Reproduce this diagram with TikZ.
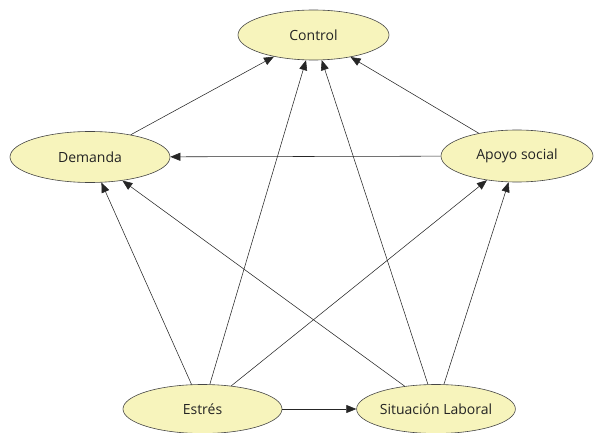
\documentclass[tikz,border=0pt]{standalone}
\usepackage{fontspec}
\setmainfont{Open Sans}
\usetikzlibrary{shapes.geometric,arrows.meta}
\definecolor{nodefill}{RGB}{247,244,188}
\definecolor{nodeline}{RGB}{70,70,70}
\definecolor{labeltext}{RGB}{35,35,35}
\tikzset{
  var/.style={ellipse, draw=nodeline, line width=0.6pt, fill=nodefill,
    inner sep=0pt, text=labeltext, font=\fontsize{14}{16}\selectfont},
  link/.style={draw=black!85, line width=0.55pt,
    -{Triangle[length=10pt,width=8pt]}}
}
\begin{document}
\begin{tikzpicture}[x=1pt,y=-1pt]
  \useasboundingbox (0,0) rectangle (594,433);
  % variables
  \node[var, minimum width=151pt, minimum height=50pt] (control) at (313.5,35) {Control};
  \node[var, minimum width=160pt, minimum height=51pt] (demanda) at (90,157) {Demanda};
  \node[var, minimum width=152pt, minimum height=52pt] (apoyo) at (517,156) {Apoyo social};
  \node[var, minimum width=159pt, minimum height=49pt] (estres) at (202.5,409) {Estrés};
  \node[var, minimum width=158pt, minimum height=49pt] (situacion) at (436,409) {Situación Laboral};
  % relations
  \draw[link] (demanda) -- (control);
  \draw[link] (apoyo) -- (control);
  \draw[link] (apoyo) -- (demanda);
  \draw[link] (estres) -- (demanda);
  \draw[link] (estres) -- (control);
  \draw[link] (estres) -- (apoyo);
  \draw[link] (estres) -- (situacion);
  \draw[link] (situacion) -- (demanda);
  \draw[link] (situacion) -- (control);
  \draw[link] (situacion) -- (apoyo);
\end{tikzpicture}
\end{document}
